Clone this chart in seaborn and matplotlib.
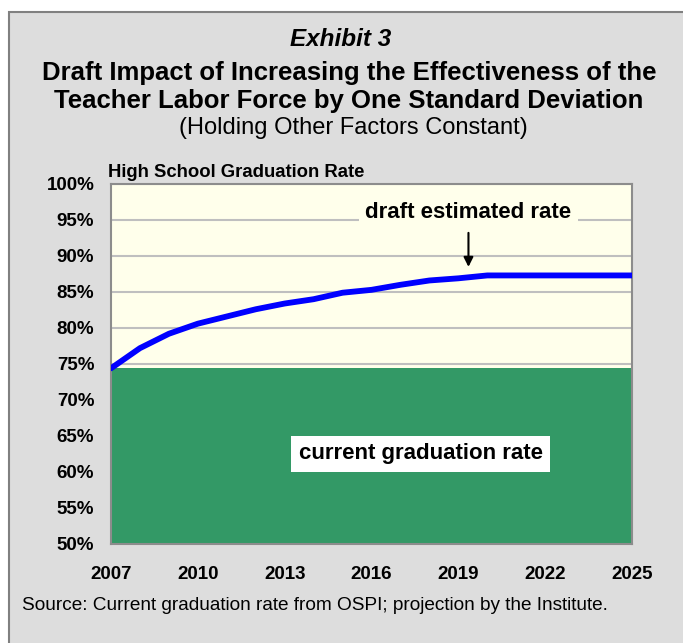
import seaborn as sns
import pandas as pd
import numpy as np
import matplotlib.pyplot as plt
from matplotlib.patches import Rectangle
from matplotlib.ticker import FuncFormatter

# data
years = list(range(2007, 2026))
draft_rate = [74.4, 77.2, 79.2, 80.6, 81.6, 82.6, 83.4, 84.0, 84.9, 85.3,
              86.0, 86.6, 86.9, 87.3, 87.3, 87.3, 87.3, 87.3, 87.3]
current_rate = [74.4] * len(years)
x_ticks = [2007, 2010, 2013, 2016, 2019, 2022, 2025]
y_ticks = [50, 55, 60, 65, 70, 75, 80, 85, 90, 95, 100]

df = pd.DataFrame({'Year': years, 'Draft': draft_rate, 'Current': current_rate})

sns.set_style('white')
plt.rcParams['font.family'] = ['Liberation Sans', 'DejaVu Sans']
plt.rcParams['text.color'] = 'black'
plt.rcParams['xtick.color'] = 'black'
plt.rcParams['ytick.color'] = 'black'

W, H = 683, 643
fig = plt.figure(figsize=(W / 100, H / 100), dpi=100)
fig.patch.set_facecolor('white')

# grey panel behind everything
panel = Rectangle((9 / W, -0.01), 1.0, 1 - 12 / H + 0.01, transform=fig.transFigure,
                  facecolor='#DDDDDD', edgecolor='#808080', linewidth=1.5, zorder=-5)
fig.patches.append(panel)


def fy(px):
    return 1 - px / H


ax = fig.add_axes([111 / W, fy(544), 521 / W, 360 / H])
ax.set_facecolor('#FFFFEB')

# green area for current graduation rate
ax.fill_between(df['Year'], 50, df['Current'], color='#339966', linewidth=0, zorder=2)
sns.lineplot(data=df, x='Year', y='Draft', color='#0000FF', linewidth=4.2, ax=ax, zorder=3,
             solid_capstyle='round')

ax.set_xlim(2007, 2025)
ax.set_ylim(50, 100)
ax.set_xticks(x_ticks)
ax.set_yticks(y_ticks)
ax.yaxis.set_major_formatter(FuncFormatter(lambda v, p: f'{v:.0f}%'))
ax.set_xlabel('')
ax.set_ylabel('')
ax.grid(axis='y', color='#BFBFBF', linewidth=1.5)
ax.set_axisbelow(True)
for s in ax.spines.values():
    s.set_color('#8C8C8C')
    s.set_linewidth(1.5)
ax.tick_params(axis='x', length=7, width=1.5, color='#8C8C8C', labelcolor='black',
               direction='out', pad=9, labelsize=13.5)
ax.tick_params(axis='y', length=0, pad=12, labelsize=13.5, labelcolor='black')
for lab in ax.get_xticklabels() + ax.get_yticklabels():
    lab.set_fontweight('bold')

# annotations
ax.text(2019.35, 96.1, 'draft estimated rate', ha='center', va='center', fontsize=16,
        fontweight='bold', zorder=4,
        bbox=dict(boxstyle='square,pad=0.3', facecolor='#FFFFEB', edgecolor='none'))
ax.annotate('', xy=(2019.35, 88.1), xytext=(2019.35, 93.6),
            arrowprops=dict(arrowstyle='-|>', color='black', lw=1.5, mutation_scale=14),
            zorder=4)
ax.text(2017.7, 62.5, 'current graduation rate', ha='center', va='center', fontsize=16,
        fontweight='bold', zorder=4,
        bbox=dict(boxstyle='square,pad=0.35', facecolor='white', edgecolor='none'))

# titles
fig.text(341 / W, fy(40), 'Exhibit 3', ha='center', va='center', fontsize=17.5,
         fontweight='bold', fontstyle='italic')
fig.text(349 / W, fy(73), 'Draft Impact of Increasing the Effectiveness of the',
         ha='center', va='center', fontsize=18.5, fontweight='bold')
fig.text(349 / W, fy(101), 'Teacher Labor Force by One Standard Deviation',
         ha='center', va='center', fontsize=18.5, fontweight='bold')
fig.text(353 / W, fy(128), '(Holding Other Factors Constant)', ha='center', va='center',
         fontsize=17)
fig.text(108 / W, fy(172), 'High School Graduation Rate', ha='left', va='center',
         fontsize=13.3, fontweight='bold')
fig.text(22 / W, fy(606), 'Source: Current graduation rate from OSPI; projection by the Institute.',
         ha='left', va='center', fontsize=13.7)

plt.savefig('out.png', dpi=100)
